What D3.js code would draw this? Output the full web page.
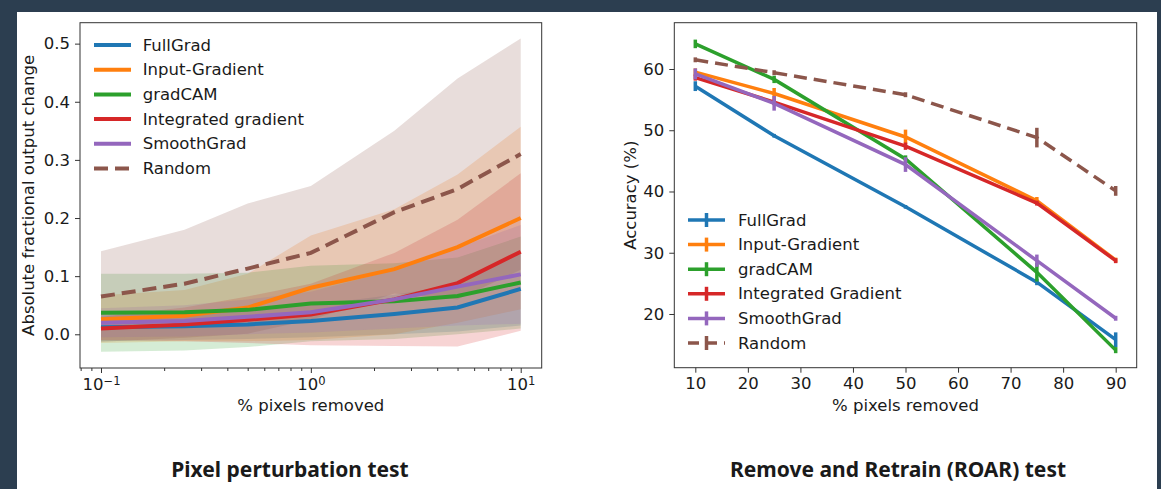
<!DOCTYPE html>
<html>
<head>
<meta charset="utf-8">
<script src="https://cdn.jsdelivr.net/npm/d3@7"></script>
<style>
    body { margin: 0; background: #2c3e50; }
    svg { display: block; }
    text { font-family: "DejaVu Sans", sans-serif; fill: #1a1a1a; }
</style>
</head>
<body>
<svg id="chart" width="1161" height="489"></svg>
<script>
// ---- Data: pixel perturbation test (left panel) ----
const pertMethods = ["FullGrad", "Input-Gradient", "gradCAM", "Integrated gradient", "SmoothGrad", "Random"];
const pertX = [0.1, 0.25, 0.5, 1, 2.5, 5, 10];

const pertFullGrad     = [0.012, 0.014, 0.017, 0.023, 0.035, 0.046, 0.078];
const pertFullGradLo   = [-0.012, -0.010, -0.008, -0.005, 0.000, 0.005, 0.015];
const pertFullGradHi   = [0.038, 0.040, 0.043, 0.050, 0.068, 0.085, 0.140];

const pertInputGrad    = [0.026, 0.032, 0.046, 0.080, 0.112, 0.150, 0.200];
const pertInputGradLo  = [-0.015, -0.012, -0.012, -0.010, 0.000, 0.020, 0.043];
const pertInputGradHi  = [0.067, 0.076, 0.104, 0.170, 0.215, 0.275, 0.357];

const pertGradCAM      = [0.037, 0.038, 0.042, 0.053, 0.057, 0.066, 0.089];
const pertGradCAMLo    = [-0.030, -0.028, -0.022, -0.012, -0.008, 0.000, 0.010];
const pertGradCAMHi    = [0.104, 0.104, 0.106, 0.118, 0.122, 0.132, 0.168];

const pertIntGrad      = [0.010, 0.017, 0.025, 0.034, 0.060, 0.088, 0.142];
const pertIntGradLo    = [-0.010, -0.012, -0.015, -0.019, -0.020, -0.021, 0.006];
const pertIntGradHi    = [0.030, 0.046, 0.065, 0.087, 0.140, 0.197, 0.277];

const pertSmoothGrad   = [0.020, 0.023, 0.030, 0.038, 0.060, 0.082, 0.103];
const pertSmoothGradLo = [-0.005, -0.004, 0.000, 0.003, 0.010, 0.015, 0.018];
const pertSmoothGradHi = [0.045, 0.050, 0.060, 0.073, 0.110, 0.149, 0.188];

const pertRandom       = [0.065, 0.087, 0.113, 0.140, 0.210, 0.250, 0.310];
const pertRandomLo     = [-0.013, -0.006, 0.001, 0.025, 0.070, 0.060, 0.111];
const pertRandomHi     = [0.143, 0.180, 0.225, 0.255, 0.350, 0.440, 0.509];

const pertYTicks = [0, 0.1, 0.2, 0.3, 0.4, 0.5];
const pertXTicks = [0.1, 1, 10];
const pertXTickExp = ["\u22121", "0", "1"];

// ---- Data: remove and retrain (right panel) ----
const roarMethods = ["FullGrad", "Input-Gradient", "gradCAM", "Integrated Gradient", "SmoothGrad", "Random"];
const roarX = [10, 25, 50, 75, 90];

const roarFullGrad      = [57.2, 49.1, 37.5, 25.2, 15.8];
const roarFullGradErr   = [0.8, 0.3, 0.3, 0.5, 1.2];
const roarInputGrad     = [59.5, 56.0, 48.9, 38.5, 28.8];
const roarInputGradErr  = [0.6, 0.9, 1.2, 0.6, 0.4];
const roarGradCAM       = [64.1, 58.3, 45.3, 26.8, 14.1];
const roarGradCAMErr    = [0.7, 0.6, 0.6, 1.5, 0.5];
const roarIntGrad       = [58.6, 54.6, 47.4, 38.1, 28.7];
const roarIntGradErr    = [0.5, 0.5, 0.6, 0.4, 0.4];
const roarSmoothGrad    = [59.2, 54.4, 44.4, 28.7, 19.3];
const roarSmoothGradErr = [0.9, 1.2, 1.2, 1.0, 0.4];
const roarRandom        = [61.5, 59.4, 55.8, 48.8, 40.1];
const roarRandomErr     = [0.4, 0.4, 0.4, 1.6, 0.8];

const roarYTicks = [20, 30, 40, 50, 60];
const roarXTicks = [10, 20, 30, 40, 50, 60, 70, 80, 90];

const colors = ["#1f77b4", "#ff7f0e", "#2ca02c", "#d62728", "#9467bd", "#8c564b"];

// series tables built from the arrays above
const pertSeries = [
    [pertFullGrad, pertFullGradLo, pertFullGradHi],
    [pertInputGrad, pertInputGradLo, pertInputGradHi],
    [pertGradCAM, pertGradCAMLo, pertGradCAMHi],
    [pertIntGrad, pertIntGradLo, pertIntGradHi],
    [pertSmoothGrad, pertSmoothGradLo, pertSmoothGradHi],
    [pertRandom, pertRandomLo, pertRandomHi]
].map(([m, lo, hi], i) => ({
    name: pertMethods[i], color: colors[i], dashed: i === 5,
    points: pertX.map((x, j) => ({ x, y: m[j], lo: lo[j], hi: hi[j] }))
}));

const roarSeries = [
    [roarFullGrad, roarFullGradErr],
    [roarInputGrad, roarInputGradErr],
    [roarGradCAM, roarGradCAMErr],
    [roarIntGrad, roarIntGradErr],
    [roarSmoothGrad, roarSmoothGradErr],
    [roarRandom, roarRandomErr]
].map(([m, e], i) => ({
    name: roarMethods[i], color: colors[i], dashed: i === 5,
    points: roarX.map((x, j) => ({ x, y: m[j], err: e[j] }))
}));

const svg = d3.select("#chart");
svg.append("rect").attr("x", 17).attr("y", 12).attr("width", 1140).attr("height", 477).attr("fill", "#fff");

const FONT = 16.5;

function styleAxis(g) {
    g.select(".domain").remove();
    g.selectAll(".tick line").attr("stroke", "#333").attr("stroke-width", 1);
    g.selectAll(".tick text").attr("font-size", FONT).attr("fill", "#1a1a1a")
        .attr("font-family", "DejaVu Sans");
}

// ---------- Left panel ----------
function drawPerturbation() {
    const box = { x0: 80, x1: 541.7, y0: 22.7, y1: 368 };
    const x = d3.scaleLog().domain([Math.pow(10, -1.1), Math.pow(10, 1.1)]).range([box.x0, box.x1]);
    const y = d3.scaleLinear().domain([-0.058, 0.536]).range([box.y1, box.y0]);

    svg.append("clipPath").attr("id", "clipL").append("rect")
        .attr("x", box.x0).attr("y", box.y0).attr("width", box.x1 - box.x0).attr("height", box.y1 - box.y0);
    const plot = svg.append("g").attr("clip-path", "url(#clipL)");

    const area = d3.area().x(d => x(d.x)).y0(d => y(d.lo)).y1(d => y(d.hi));
    const line = d3.line().x(d => x(d.x)).y(d => y(d.y));

    plot.selectAll(".band").data(pertSeries).enter().append("path")
        .attr("d", s => area(s.points))
        .attr("fill", s => s.color).attr("fill-opacity", 0.2);

    plot.selectAll(".ln").data(pertSeries).enter().append("path")
        .attr("d", s => line(s.points))
        .attr("fill", "none").attr("stroke", s => s.color).attr("stroke-width", 4)
        .attr("stroke-dasharray", s => s.dashed ? "14,7" : null);

    // axes
    const yAxis = svg.append("g").attr("transform", `translate(${box.x0},0)`)
        .call(d3.axisLeft(y).tickValues(pertYTicks).tickFormat(d3.format(".1f")).tickSize(5).tickPadding(5));
    styleAxis(yAxis);

    const minor = x.ticks().filter(v => pertXTicks.indexOf(v) < 0);
    const xMinor = svg.append("g").attr("transform", `translate(0,${box.y1})`)
        .call(d3.axisBottom(x).tickValues(minor).tickFormat("").tickSize(3));
    styleAxis(xMinor);

    const xAxis = svg.append("g").attr("transform", `translate(0,${box.y1})`)
        .call(d3.axisBottom(x).tickValues(pertXTicks).tickFormat("").tickSize(5).tickPadding(5));
    styleAxis(xAxis);
    xAxis.selectAll(".tick text").each(function(d, i) {
        const t = d3.select(this);
        t.append("tspan").text("10");
        t.append("tspan").attr("dy", "-0.45em").attr("font-size", FONT * 0.7).text(pertXTickExp[i]);
    });

    svg.append("rect").attr("x", box.x0).attr("y", box.y0)
        .attr("width", box.x1 - box.x0).attr("height", box.y1 - box.y0)
        .attr("fill", "none").attr("stroke", "#333").attr("stroke-width", 1);

    // labels
    svg.append("text").attr("transform", `translate(29,${(box.y0 + box.y1) / 2}) rotate(-90)`)
        .attr("text-anchor", "middle").attr("dominant-baseline", "middle")
        .attr("font-size", FONT).text("Absolute fractional output change");
    svg.append("text").attr("x", (box.x0 + box.x1) / 2).attr("y", 411)
        .attr("text-anchor", "middle").attr("font-size", FONT).text("% pixels removed");

    // legend
    const leg = svg.append("g");
    pertSeries.forEach((s, i) => {
        const ly = 45 + i * 24.7;
        leg.append("line").attr("x1", 94).attr("x2", 131).attr("y1", ly).attr("y2", ly)
            .attr("stroke", s.color).attr("stroke-width", 4)
            .attr("stroke-dasharray", s.dashed ? "14,7" : null);
        leg.append("text").attr("x", 142.7).attr("y", ly).attr("dominant-baseline", "central")
            .attr("font-size", FONT).text(s.name);
    });

    svg.append("text").attr("x", 290).attr("y", 477).attr("text-anchor", "middle")
        .attr("font-family", "Noto Sans").attr("font-weight", 700).attr("font-size", 21)
        .style("font-family", "'Noto Sans', sans-serif")
        .text("Pixel perturbation test");
}

// ---------- Right panel ----------
function drawRoar() {
    const box = { x0: 674.3, x1: 1136.7, y0: 22.7, y1: 367.7 };
    const x = d3.scaleLinear().domain([6, 94]).range([box.x0, box.x1]);
    const y = d3.scaleLinear().domain([11.23, 67.56]).range([box.y1, box.y0]);

    const line = d3.line().x(d => x(d.x)).y(d => y(d.y));
    const plot = svg.append("g");

    roarSeries.forEach(s => {
        const g = plot.append("g");
        g.append("path").attr("d", line(s.points))
            .attr("fill", "none").attr("stroke", s.color).attr("stroke-width", 3.5)
            .attr("stroke-dasharray", s.dashed ? "13,7" : null);
        g.selectAll("line").data(s.points).enter().append("line")
            .attr("x1", d => x(d.x)).attr("x2", d => x(d.x))
            .attr("y1", d => y(d.y - d.err)).attr("y2", d => y(d.y + d.err))
            .attr("stroke", s.color).attr("stroke-width", 3.5);
    });

    const yAxis = svg.append("g").attr("transform", `translate(${box.x0},0)`)
        .call(d3.axisLeft(y).tickValues(roarYTicks).tickSize(5).tickPadding(5));
    styleAxis(yAxis);
    const xAxis = svg.append("g").attr("transform", `translate(0,${box.y1})`)
        .call(d3.axisBottom(x).tickValues(roarXTicks).tickSize(5).tickPadding(5));
    styleAxis(xAxis);

    svg.append("rect").attr("x", box.x0).attr("y", box.y0)
        .attr("width", box.x1 - box.x0).attr("height", box.y1 - box.y0)
        .attr("fill", "none").attr("stroke", "#333").attr("stroke-width", 1);

    svg.append("text").attr("transform", `translate(631,${(box.y0 + box.y1) / 2}) rotate(-90)`)
        .attr("text-anchor", "middle").attr("dominant-baseline", "middle")
        .attr("font-size", FONT).text("Accuracy (%)");
    svg.append("text").attr("x", (box.x0 + box.x1) / 2).attr("y", 411)
        .attr("text-anchor", "middle").attr("font-size", FONT).text("% pixels removed");

    // legend with errorbar handles
    const leg = svg.append("g");
    roarSeries.forEach((s, i) => {
        const ly = 220 + i * 24.6;
        leg.append("line").attr("x1", 688).attr("x2", 725).attr("y1", ly).attr("y2", ly)
            .attr("stroke", s.color).attr("stroke-width", 3.5)
            .attr("stroke-dasharray", s.dashed ? "11,7" : null);
        leg.append("line").attr("x1", 706.5).attr("x2", 706.5).attr("y1", ly - 7).attr("y2", ly + 7)
            .attr("stroke", s.color).attr("stroke-width", 3.5);
        leg.append("text").attr("x", 738).attr("y", ly).attr("dominant-baseline", "central")
            .attr("font-size", FONT).text(s.name);
    });

    svg.append("text").attr("x", 898).attr("y", 477).attr("text-anchor", "middle")
        .attr("font-weight", 700).attr("font-size", 21)
        .style("font-family", "'Noto Sans', sans-serif")
        .text("Remove and Retrain (ROAR) test");
}

drawPerturbation();
drawRoar();
</script>
</body>
</html>
